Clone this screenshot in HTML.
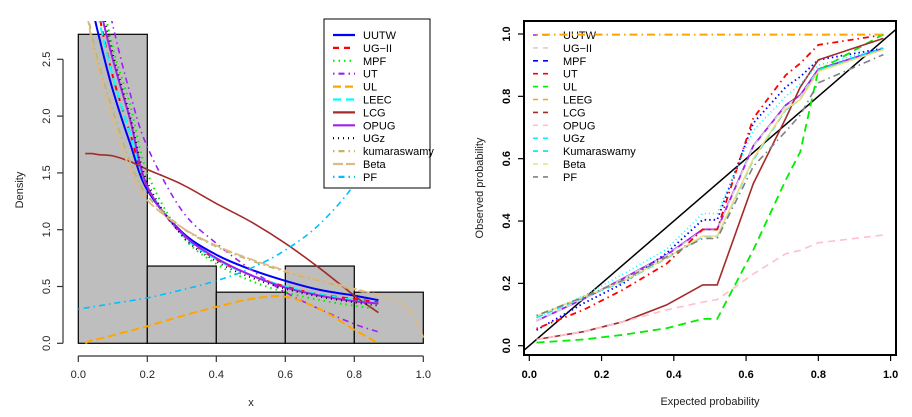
<!DOCTYPE html>
<html><head><meta charset="utf-8">
<style>
html,body{margin:0;padding:0;background:#fff;}
svg{display:block;font-family:"Liberation Sans",Arial,sans-serif;}
</style></head>
<body>
<svg id="c" width="912" height="417" xmlns="http://www.w3.org/2000/svg">
<defs>
<clipPath id="clipL"><rect x="64" y="21" width="376" height="336"/></clipPath>
<clipPath id="clipR"><rect x="524" y="21" width="372" height="334"/></clipPath>
</defs>
<g id="left"></g>
<g id="right"></g>
</svg>
<script>
// ---- Left panel data ----
const histBreaks = [0, 0.2, 0.4, 0.6, 0.8, 1.0];
const histDensity = [2.72, 0.68, 0.45, 0.68, 0.45];
const xTicksL = [0, 0.2, 0.4, 0.6, 0.8, 1.0];
const xTickLabelsL = ["0.0","0.2","0.4","0.6","0.8","1.0"];
const yTicksL = [0, 0.5, 1.0, 1.5, 2.0, 2.5];
const yTickLabelsL = ["0.0","0.5","1.0","1.5","2.0","2.5"];
const densX = [0.02, 0.04, 0.06, 0.1, 0.15, 0.2, 0.3, 0.4, 0.5, 0.6, 0.7, 0.8, 0.87];
const dUUTW = [3.6, 3.0, 2.7, 2.23, 1.76, 1.35, 0.98, 0.78, 0.65, 0.55, 0.47, 0.42, 0.38];
const dUGII = [3.9, 3.3, 2.9, 2.35, 1.85, 1.37, 0.96, 0.74, 0.6, 0.5, 0.43, 0.39, 0.36];
const dMPF  = [4.2, 3.6, 3.2, 2.6, 2.1, 1.5, 0.95, 0.7, 0.55, 0.45, 0.38, 0.33, 0.3];
const dUT   = [4.4, 3.8, 3.4, 2.8, 2.2, 1.73, 1.17, 0.88, 0.65, 0.45, 0.3, 0.17, 0.1];
const dUL   = [0.0, 0.03, 0.04, 0.07, 0.11, 0.15, 0.24, 0.32, 0.39, 0.41, 0.3, 0.12, 0.0];
const dLEEC = [3.8, 3.2, 2.85, 2.35, 1.85, 1.38, 0.96, 0.74, 0.6, 0.5, 0.43, 0.38, 0.35];
const dLCG  = [1.67, 1.67, 1.66, 1.65, 1.6, 1.53, 1.4, 1.23, 1.07, 0.88, 0.66, 0.42, 0.27];
const dOPUG = [4.0, 3.4, 3.0, 2.5, 1.97, 1.38, 0.97, 0.75, 0.6, 0.49, 0.42, 0.37, 0.35];
const dUGz  = [4.1, 3.5, 3.1, 2.55, 2.0, 1.42, 0.95, 0.72, 0.58, 0.48, 0.41, 0.36, 0.33];
const dKuma = [3.0, 2.7, 2.45, 2.05, 1.6, 1.3, 1.02, 0.85, 0.73, 0.63, 0.55, 0.47, 0.43];
const betaX = [0.02, 0.04, 0.06, 0.1, 0.15, 0.2, 0.3, 0.4, 0.5, 0.6, 0.7, 0.8, 0.9, 0.95, 0.98, 1.0];
const dBeta = [3.0, 2.65, 2.4, 1.97, 1.53, 1.26, 1.02, 0.86, 0.74, 0.64, 0.56, 0.48, 0.4, 0.32, 0.2, 0.05];
const pfX = [0.0, 0.1, 0.2, 0.3, 0.4, 0.5, 0.6, 0.7, 0.8, 0.87];
const dPF = [0.3, 0.35, 0.4, 0.47, 0.55, 0.66, 0.82, 1.05, 1.4, 1.8];

// ---- Right panel data ----
const ppX = [0.02, 0.15, 0.26, 0.38, 0.48, 0.52, 0.62, 0.71, 0.75, 0.80, 0.98];
const pUUTW = [0.08, 0.15, 0.216, 0.291, 0.373, 0.373, 0.641, 0.772, 0.804, 0.887, 0.954];
const pUGII = [0.08, 0.15, 0.215, 0.29, 0.37, 0.37, 0.64, 0.77, 0.8, 0.885, 0.95];
const pMPF  = [0.05, 0.136, 0.2, 0.297, 0.404, 0.404, 0.714, 0.83, 0.863, 0.917, 0.954];
const pUT   = [0.055, 0.115, 0.18, 0.263, 0.373, 0.373, 0.73, 0.868, 0.906, 0.965, 0.997];
const pUL   = [0.01, 0.02, 0.035, 0.056, 0.086, 0.086, 0.307, 0.532, 0.622, 0.884, 0.999];
const pLEEG = [0.998, 0.998, 0.998, 0.998, 0.998, 0.998, 0.998, 0.998, 0.998, 0.998, 0.998];
const pLCG  = [0.02, 0.045, 0.077, 0.131, 0.195, 0.195, 0.52, 0.73, 0.83, 0.917, 0.986];
const pOPUG = [0.02, 0.045, 0.077, 0.115, 0.14, 0.148, 0.23, 0.295, 0.306, 0.33, 0.355];
const pUGz  = [0.09, 0.16, 0.23, 0.31, 0.424, 0.424, 0.69, 0.8, 0.84, 0.9, 0.955];
const pKuma = [0.09, 0.155, 0.205, 0.28, 0.35, 0.35, 0.596, 0.757, 0.79, 0.884, 0.954];
const pBeta = [0.095, 0.157, 0.207, 0.282, 0.352, 0.352, 0.6, 0.76, 0.79, 0.88, 0.95];
const pPF   = [0.097, 0.156, 0.21, 0.285, 0.344, 0.344, 0.575, 0.688, 0.74, 0.843, 0.934];
const ticksR = [0, 0.2, 0.4, 0.6, 0.8, 1.0];
const tickLabelsR = ["0.0","0.2","0.4","0.6","0.8","1.0"];

const NS = "http://www.w3.org/2000/svg";
function mk(parent, tag, attrs, text) {
  const e = document.createElementNS(NS, tag);
  for (const k in attrs) e.setAttribute(k, attrs[k]);
  if (text !== undefined) e.textContent = text;
  parent.appendChild(e);
  return e;
}
// axis functions
const xL = v => 78.3 + 345 * v;
const yL = v => 343.3 - 113.6 * v;
const xR = v => 529.3 + 361.3 * v;
const yR = v => 345.7 - 311.7 * v;

const L = document.getElementById('left');
const R = document.getElementById('right');

// Histogram
const hg = mk(L, 'g', {});


for (let i = 0; i < histDensity.length; i++) {
  const r = mk(hg, 'rect', {x: xL(histBreaks[i]), y: yL(histDensity[i]), width: xL(histBreaks[i+1]) - xL(histBreaks[i]), height: yL(0) - yL(histDensity[i]), fill: '#bebebe', stroke: '#000', 'stroke-width': 1.2});
  
  
}
// left axes
const axL = mk(L, 'g', {stroke: '#333', 'stroke-width': 1.2, fill: 'none'});


mk(axL, 'line', {x1: xL(0), x2: xL(1), y1: 356, y2: 356});
xTicksL.forEach((t, i) => {
  mk(axL, 'line', {x1: xL(t), x2: xL(t), y1: 356, y2: 362});
  const tx = mk(L, 'text', {x: xL(t), y: 378, 'font-size': 11, 'text-anchor': 'middle', fill: '#222'}, xTickLabelsL[i]);
  
  
});
const ayL = mk(L, 'g', {stroke: '#333', 'stroke-width': 1.2, fill: 'none'});


mk(ayL, 'line', {x1: 63, x2: 63, y1: yL(0), y2: yL(2.5)});
yTicksL.forEach((t, i) => {
  mk(ayL, 'line', {x1: 57, x2: 63, y1: yL(t), y2: yL(t)});
  const tx = mk(L, 'text', {x: 50, y: yL(t), 'font-size': 11, 'text-anchor': 'middle', fill: '#222', transform: `rotate(-90 50 ${yL(t)})`}, yTickLabelsL[i]);
  
  
});
const xtl = mk(L, 'text', {x: 251, y: 406, 'font-size': 11, 'text-anchor': 'middle', fill: '#222'}, 'x');


const ytl = mk(L, 'text', {x: 23, y: 190, 'font-size': 11, 'text-anchor': 'middle', fill: '#222', transform: 'rotate(-90 23 190)'}, 'Density');



function pathD(xs, ys, fx, fy) {
  return xs.map((x, i) => (i ? 'L' : 'M') + fx(x).toFixed(1) + ',' + fy(ys[i]).toFixed(1)).join(' ');
}
// smooth (Catmull-Rom) path through data points
function smoothD(xs, ys, fx, fy) {
  const P = xs.map((x, i) => [fx(x), fy(ys[i])]);
  let d = 'M' + P[0][0].toFixed(1) + ',' + P[0][1].toFixed(1);
  for (let i = 0; i < P.length - 1; i++) {
    const p0 = P[Math.max(0, i - 1)], p1 = P[i], p2 = P[i + 1], p3 = P[Math.min(P.length - 1, i + 2)];
    const c1 = [p1[0] + (p2[0] - p0[0]) / 6, p1[1] + (p2[1] - p0[1]) / 6];
    const c2 = [p2[0] - (p3[0] - p1[0]) / 6, p2[1] - (p3[1] - p1[1]) / 6];
    d += ' C' + c1[0].toFixed(1) + ',' + c1[1].toFixed(1) + ' ' + c2[0].toFixed(1) + ',' + c2[1].toFixed(1) + ' ' + p2[0].toFixed(1) + ',' + p2[1].toFixed(1);
  }
  return d;
}
const densSeries = [
  ['UUTW', densX, dUUTW, '#0000ff', '', 2],
  ['UG-II', densX, dUGII, '#ff0000', '6,5', 2],
  ['MPF', densX, dMPF, '#00ee00', '1.5,4', 2],
  ['UT', densX, dUT, '#a020f0', '1.5,4,6,4', 1.6],
  ['UL', densX, dUL, '#ffa500', '8,4', 2],
  ['LEEC', densX, dLEEC, '#00ffff', '8,5', 2],
  ['LCG', densX, dLCG, '#a52a2a', '', 1.6],
  ['OPUG', densX, dOPUG, '#a020f0', '', 2],
  ['UGz', densX, dUGz, '#000000', '1,4', 1.8],
  ['kumaraswamy', densX, dKuma, '#bdb76b', '1.5,4,6,4', 1.8],
  ['Beta', betaX, dBeta, '#deb887', '10,3', 1.8],
  ['PF', pfX, dPF, '#00bfff', '1.5,4,6,4', 1.6]
];
const lc = mk(L, 'g', {'clip-path': 'url(#clipL)', fill: 'none'});
densSeries.forEach(s => {
  const p = mk(lc, 'path', {d: smoothD(s[1], s[2], xL, yL), stroke: s[3], 'stroke-width': s[5], 'stroke-dasharray': s[4]});
  
  
});
// left legend
const lgL = mk(L, 'g', {});


mk(lgL, 'rect', {x: 324, y: 19, width: 106, height: 169, fill: '#fff', stroke: '#000', 'stroke-width': 1});
densSeries.forEach((s, i) => {
  const y = 35 + i * 12.9;
  const g = mk(lgL, 'g', {});
  
  
  mk(g, 'line', {x1: 333, x2: 355, y1: y, y2: y, stroke: s[3], 'stroke-width': 2.2, 'stroke-dasharray': s[4]});
  mk(g, 'text', {x: 363, y: y + 4, 'font-size': 11, fill: '#000'}, s[0] === 'UG-II' ? 'UG\u2212II' : s[0]);
});

// ---- Right panel ----
const frame = mk(R, 'rect', {x: 524, y: 21, width: 372, height: 334, fill: 'none', stroke: '#000', 'stroke-width': 2});


const axR = mk(R, 'g', {stroke: '#000', 'stroke-width': 1.2});


ticksR.forEach((t, i) => {
  mk(axR, 'line', {x1: xR(t), x2: xR(t), y1: 355, y2: 361});
  const tx = mk(R, 'text', {x: xR(t), y: 378, 'font-size': 11, 'font-weight': 'bold', 'text-anchor': 'middle'}, tickLabelsR[i]);
  
  
  mk(axR, 'line', {x1: 518, x2: 524, y1: yR(t), y2: yR(t)});
  const ty = mk(R, 'text', {x: 510, y: yR(t), 'font-size': 11, 'font-weight': 'bold', 'text-anchor': 'middle', transform: `rotate(-90 510 ${yR(t)})`}, tickLabelsR[i]);
  
  
});
const xtr = mk(R, 'text', {x: 710, y: 405, 'font-size': 11, 'text-anchor': 'middle', fill: '#222'}, 'Expected probability');


const ytr = mk(R, 'text', {x: 483, y: 188, 'font-size': 11, 'text-anchor': 'middle', fill: '#222', transform: 'rotate(-90 483 188)'}, 'Observed probability');



const ppSeries = [
  ['UUTW', pUUTW, '#a020f0', '', 1.8],
  ['UG\u2212II', pUGII, '#d3d3d3', '6,5', 1.6],
  ['MPF', pMPF, '#0000ff', '1.5,3', 1.8],
  ['UT', pUT, '#ff0000', '1.5,4,6,4', 1.8],
  ['UL', pUL, '#00ee00', '8,5', 1.8],
  ['LEEG', pLEEG, '#ffa500', '1.5,4,8,4', 2],
  ['LCG', pLCG, '#a52a2a', '', 1.6],
  ['OPUG', pOPUG, '#ffc0cb', '7,5', 1.6],
  ['UGz', pUGz, '#00ffff', '1,3', 1.6],
  ['Kumaraswamy', pKuma, '#00e5ee', '7,4', 1.6],
  ['Beta', pBeta, '#eedd82', '', 1.6],
  ['PF', pPF, '#808080', '1.5,4,7,4', 1.6]
];
const lgR = mk(R, 'g', {});


ppSeries.forEach((s, i) => {
  const y = 35 + i * 12.9;
  const g = mk(lgR, 'g', {});
  
  
  mk(g, 'line', {x1: 533, x2: 549, y1: y, y2: y, stroke: s[2], 'stroke-width': 1.6, 'stroke-dasharray': '5,5'});
  mk(g, 'text', {x: 563, y: y + 4, 'font-size': 11, fill: '#000'}, s[0]);
});
const rc = mk(R, 'g', {'clip-path': 'url(#clipR)', fill: 'none'});
const diag = mk(rc, 'line', {x1: xR(-0.02), y1: yR(-0.02), x2: xR(1.02), y2: yR(1.02), stroke: '#000', 'stroke-width': 1.5});


ppSeries.forEach(s => {
  const p = mk(rc, 'path', {d: pathD(ppX, s[1], xR, yR), stroke: s[2], 'stroke-width': s[4], 'stroke-dasharray': s[3]});
  
  
});
</script>
</body></html>
